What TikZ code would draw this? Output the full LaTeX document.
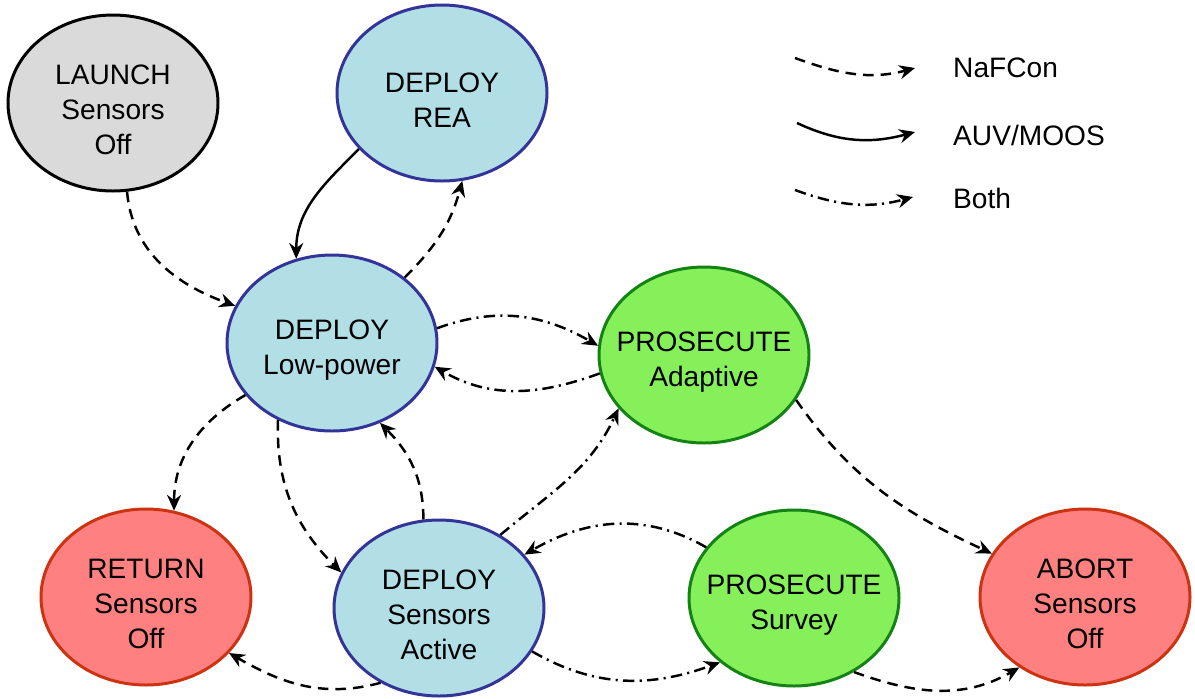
\documentclass[tikz,border=0pt]{standalone}
\usepackage{fontspec}
\setmainfont{Liberation Sans}
\usetikzlibrary{arrows.meta,shapes.geometric}
\definecolor{StateBlue}{RGB}{178,222,229}
\definecolor{StateBlueLine}{RGB}{51,51,153}
\definecolor{StateGreen}{RGB}{134,240,90}
\definecolor{StateGreenLine}{RGB}{20,130,20}
\definecolor{StateRed}{RGB}{255,128,128}
\definecolor{StateRedLine}{RGB}{204,51,17}
\definecolor{StateGray}{RGB}{218,218,218}
\newcommand{\stategap}{\rule{0pt}{19pt}}

\begin{document}
\begin{tikzpicture}[>={Stealth[length=9pt,width=8pt,inset=3pt]},
  state/.style={ellipse,line width=1.7pt,minimum width=4.2cm,minimum height=3.52cm,inner xsep=-6mm,inner ysep=0pt,align=center,font=\fontsize{16}{20}\selectfont},
  deploy/.style={state,draw=StateBlueLine,fill=StateBlue},
  prosecute/.style={state,draw=StateGreenLine,fill=StateGreen},
  stop/.style={state,draw=StateRedLine,fill=StateRed},
  naf/.style={->,line width=1.4pt,dash pattern=on 6pt off 4pt},
  moos/.style={->,line width=1.4pt},
  both/.style={->,line width=1.4pt,dash pattern=on 6.5pt off 3pt on 1.2pt off 3pt},
  legtext/.style={anchor=west,font=\fontsize{16}{20}\selectfont}]
\useasboundingbox (0,0) rectangle (23.9,-13.96);
% states
\node[state,draw=black,fill=StateGray] (launch) at (2.26,-2.06){\stategap LAUNCH\\Sensors\\Off};
\node[deploy] (rea) at (8.84,-1.86){\stategap DEPLOY\\REA};
\node[deploy] (lowp) at (6.64,-6.86){\stategap DEPLOY\\Low-power};
\node[prosecute] (adapt) at (14.08,-7.10){\stategap PROSECUTE\\Adaptive};
\node[stop] (ret) at (2.92,-11.94){\stategap RETURN\\Sensors\\Off};
\node[deploy] (active) at (8.78,-12.16){\stategap DEPLOY\\Sensors\\Active};
\node[prosecute] (survey) at (15.88,-11.96){\stategap PROSECUTE\\Survey};
\node[stop] (abort) at (21.70,-11.94){\stategap ABORT\\Sensors\\Off};
% transitions
\draw[naf] (launch.-81) to[out=-85,in=160] (lowp.159);
\draw[moos] (rea.214) to[out=-135,in=90] (lowp.113);
\draw[naf] (lowp.42) to[out=45,in=-105] (rea.-77);
\draw[both] (lowp.8) to[out=20,in=150] (adapt.175);
\draw[both] (adapt.190) to[out=200,in=-30] (lowp.-13);
\draw[naf] (lowp.211) to[out=210,in=90] (ret.72);
\draw[naf] (lowp.235) to[out=-92,in=135] (active.160);
\draw[naf] (active.100) to[out=90,in=-45] (lowp.-59);
\draw[both] (active.50) to[out=40,in=-115] (adapt.212);
\draw[both] (survey.150) to[out=150,in=30] (active.32);
\draw[both] (active.-25) to[out=-30,in=200] (survey.221);
\draw[naf] (active.232) to[out=195,in=-30] (ret.-34);
\draw[naf] (adapt.-26) to[out=-55,in=155] (abort.155);
\draw[naf] (survey.-51) to[out=-20,in=210] (abort.227);
% legend
\coordinate (n1) at (15.9,-1.16); \coordinate (n2) at (18.3,-1.36);
\coordinate (m1) at (15.94,-2.46); \coordinate (m2) at (18.3,-2.64);
\coordinate (b1) at (15.9,-3.80); \coordinate (b2) at (18.26,-3.94);
\draw[naf] (n1) to[out=-20,in=195] (n2);
\draw[moos] (m1) to[out=-25,in=195] (m2);
\draw[both] (b1) to[out=-20,in=195] (b2);
\node[legtext] (lnaf) at (18.94,-1.36){NaFCon};
\node[legtext] (lmoos) at (18.94,-2.70){AUV/MOOS};
\node[legtext] (lboth) at (18.94,-3.96){Both};
\end{tikzpicture}
\end{document}
